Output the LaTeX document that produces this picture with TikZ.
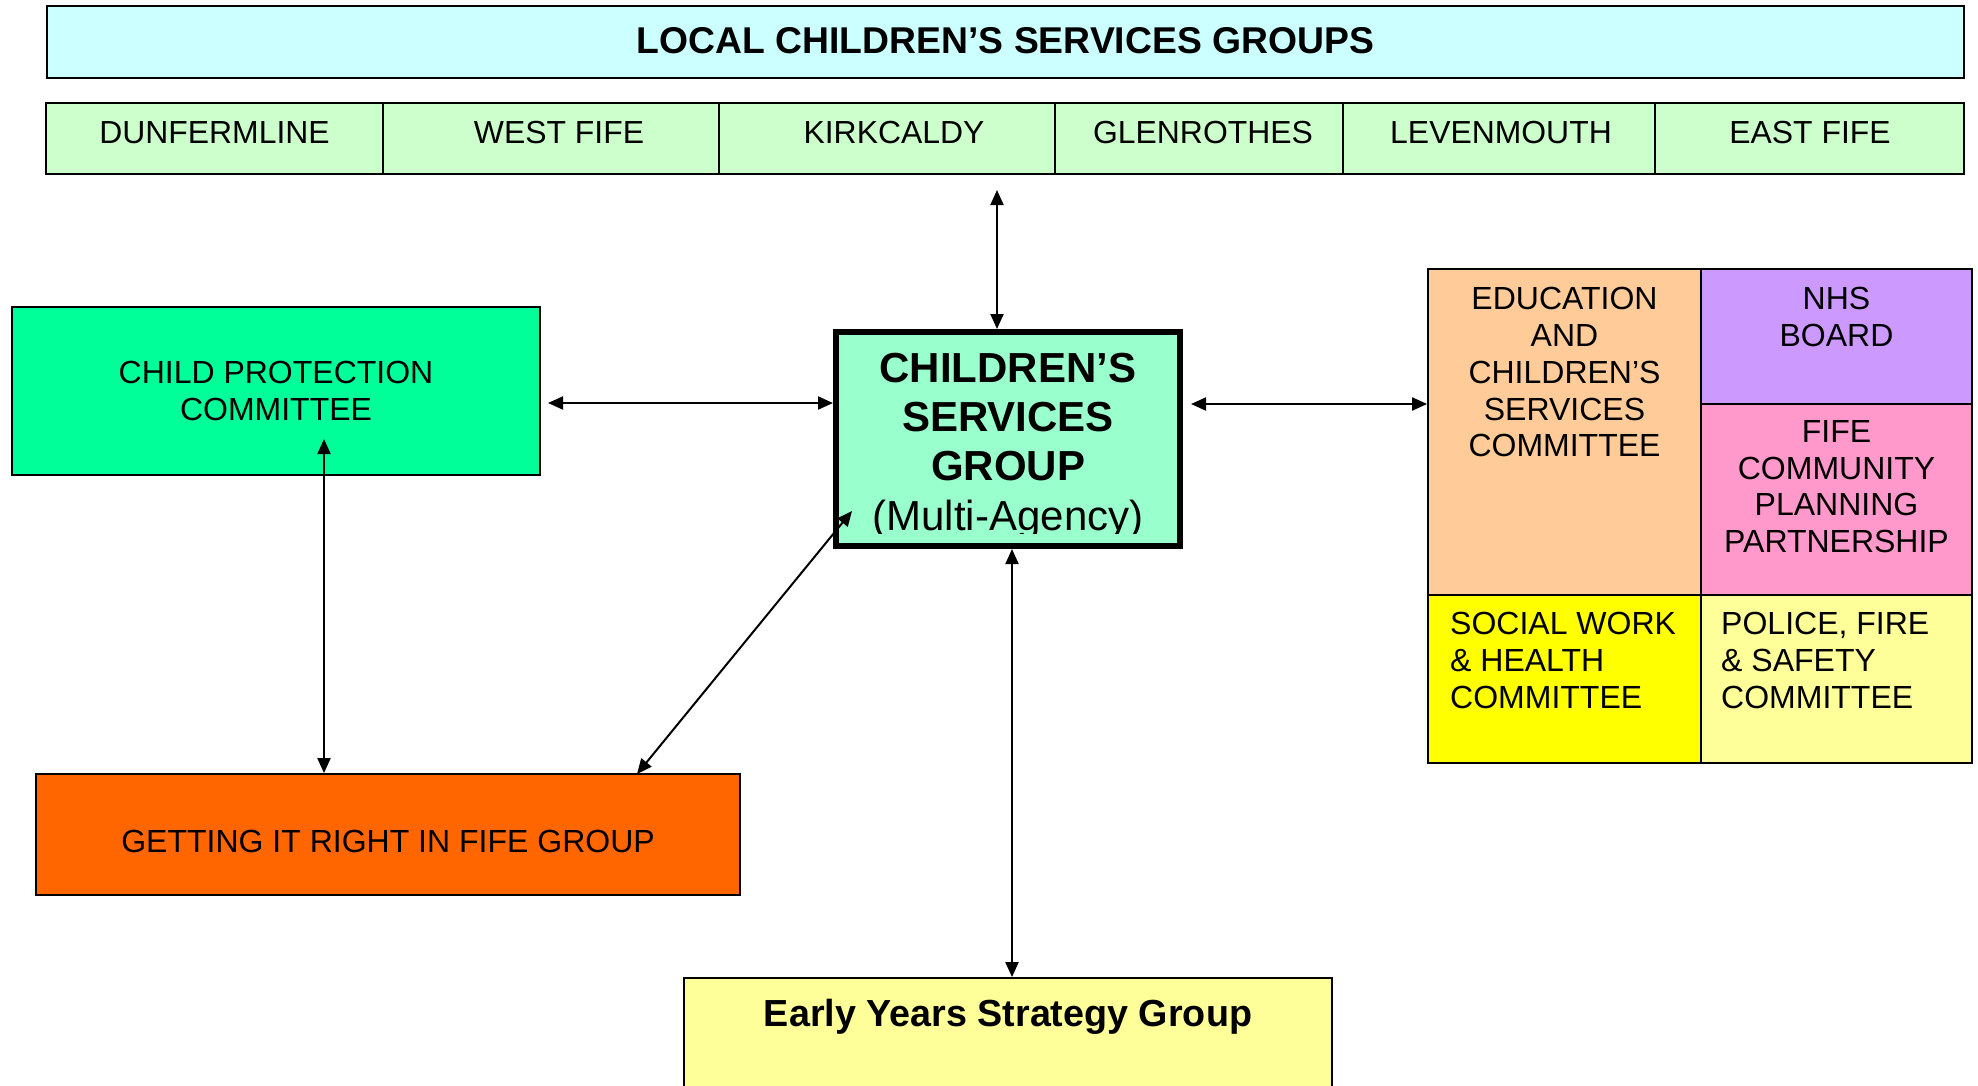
\documentclass[tikz,border=0pt]{standalone}
\usepackage{fontspec}
\setmainfont{Liberation Sans}
\usetikzlibrary{arrows.meta,calc}
\definecolor{cBanner}{HTML}{CCFFFF}
\definecolor{cDist}{HTML}{CCFFCC}
\definecolor{cCP}{HTML}{00FF99}
\definecolor{cCSG}{HTML}{99FFCC}
\definecolor{cGir}{HTML}{FF6600}
\definecolor{cEdu}{HTML}{FFCC99}
\definecolor{cNHS}{HTML}{CC99FF}
\definecolor{cFife}{HTML}{FF99CC}
\definecolor{cSoc}{HTML}{FFFF00}
\definecolor{cPol}{HTML}{FFFF99}
\definecolor{cEY}{HTML}{FFFF99}
\tikzset{
  box/.style={draw=black, line width=1.8pt, inner sep=0pt},
  thickbox/.style={draw=black, line width=6pt, inner sep=0pt},
  distfont/.style={font=\fontsize{31.9}{37}\selectfont, inner sep=0pt, anchor=base},
  bodyfont/.style={font=\fontsize{32}{36.8}\selectfont, inner sep=0pt, align=center},
  leftfont/.style={font=\fontsize{32}{36.8}\selectfont, inner sep=0pt, align=left, anchor=north west},
  titlefont/.style={font=\bfseries\fontsize{37.3}{44}\selectfont, inner sep=0pt, anchor=base},
  eyfont/.style={font=\bfseries\fontsize{37.7}{44}\selectfont, inner sep=0pt, anchor=base},
  csgfont/.style={font=\fontsize{42}{49.2}\selectfont, inner sep=0pt, align=center, anchor=north},
  arr/.style={line width=2pt, {Triangle[length=15pt,width=13pt]}-{Triangle[length=15pt,width=13pt]}}
}
\begin{document}
\begin{tikzpicture}[x=1pt,y=-1pt]
\path[use as bounding box] (0,0) rectangle (1978,1085);

% banner
\node[box, fill=cBanner, minimum width=1917pt, minimum height=72pt] (banner) at (1005.5,42) {};
\node[titlefont] (bannertxt) at (1005.5,53) {LOCAL CHILDREN’S SERVICES GROUPS};

% districts
\node[box, fill=cDist, minimum width=337pt, minimum height=71pt] (dunf) at (214.5,138.5) {};
\node[box, fill=cDist, minimum width=336pt, minimum height=71pt] (west) at (551,138.5) {};
\node[box, fill=cDist, minimum width=336pt, minimum height=71pt] (kirk) at (887,138.5) {};
\node[box, fill=cDist, minimum width=288pt, minimum height=71pt] (glen) at (1199,138.5) {};
\node[box, fill=cDist, minimum width=312pt, minimum height=71pt] (leven) at (1499,138.5) {};
\node[box, fill=cDist, minimum width=309pt, minimum height=71pt] (east) at (1809.5,138.5) {};
\node[distfont] (dunftxt) at (214.5,143) {DUNFERMLINE};
\node[distfont] (westtxt) at (559,143) {WEST FIFE};
\node[distfont] (kirktxt) at (894,143) {KIRKCALDY};
\node[distfont] (glentxt) at (1203,143) {GLENROTHES};
\node[distfont] (leventxt) at (1501,143) {LEVENMOUTH};
\node[distfont] (easttxt) at (1810,143) {EAST FIFE};

% central group
\node[thickbox, fill=cCSG, minimum width=344pt, minimum height=214pt] (csg) at (1008,439) {};
\begin{scope}
  \clip (837,334) rectangle (1179,533.5);
  \node[csgfont] (csgtxt) at (1008,353) {\textbf{CHILDREN’S}\\\textbf{SERVICES}\\\textbf{GROUP}\\(Multi-Agency)};
\end{scope}

% child protection
\node[box, fill=cCP, minimum width=528pt, minimum height=168pt] (cp) at (276,391) {};
\node[bodyfont, anchor=north] (cptxt) at (276,361.1) {CHILD PROTECTION\\COMMITTEE};

% getting it right
\node[box, fill=cGir, minimum width=704pt, minimum height=121pt] (gir) at (388,834.5) {};
\node[bodyfont, anchor=base] (girtxt) at (388,852) {GETTING IT RIGHT IN FIFE GROUP};

% right block
\node[box, fill=cEdu, minimum width=273pt, minimum height=326pt] (edu) at (1564.5,432) {};
\node[box, fill=cNHS, minimum width=271pt, minimum height=135pt] (nhs) at (1836.5,336.5) {};
\node[box, fill=cFife, minimum width=271pt, minimum height=191pt] (fife) at (1836.5,499.5) {};
\node[box, fill=cSoc, minimum width=273pt, minimum height=168pt] (soc) at (1564.5,679) {};
\node[box, fill=cPol, minimum width=271pt, minimum height=168pt] (pol) at (1836.5,679) {};
\node[bodyfont, anchor=north] (edutxt) at (1564.5,287.1) {EDUCATION\\AND\\CHILDREN’S\\SERVICES\\COMMITTEE};
\node[bodyfont, anchor=north] (nhstxt) at (1836.5,287.1) {NHS\\BOARD};
\node[bodyfont, anchor=north] (fifetxt) at (1836.5,420.1) {FIFE\\COMMUNITY\\PLANNING\\PARTNERSHIP};
\node[leftfont] (soctxt) at (1450,612.1) {SOCIAL WORK\\\& HEALTH\\COMMITTEE};
\node[leftfont] (poltxt) at (1721,612.1) {POLICE, FIRE\\\& SAFETY\\COMMITTEE};

% early years
\begin{scope}
  \clip (0,0) rectangle (1978,1085);
  \node[box, fill=cEY, minimum width=648pt, minimum height=140pt] (ey) at (1008,1048) {};
\end{scope}
\node[eyfont] (eytxt) at (1008,1026) {Early Years Strategy Group};

% connectors
\coordinate (a1) at (997,190);
\draw[arr] (a1) -- (a1 |- csg.north);
\coordinate (a2) at (548,403);
\draw[arr] (a2) -- (a2 -| csg.west);
\coordinate (a3) at (1191,404);
\draw[arr] (a3) -- (a3 -| edu.west);
\coordinate (a4) at (324,439);
\draw[arr] (a4) -- (a4 |- gir.north);
\coordinate (a5t) at (852,511);
\coordinate (a5b) at (637,774);
\draw[arr] (a5t) -- (a5b);
\coordinate (a6) at (1012,700);
\draw[arr] (a6 |- csg.south) -- (a6 |- ey.north);
\end{tikzpicture}
\end{document}
